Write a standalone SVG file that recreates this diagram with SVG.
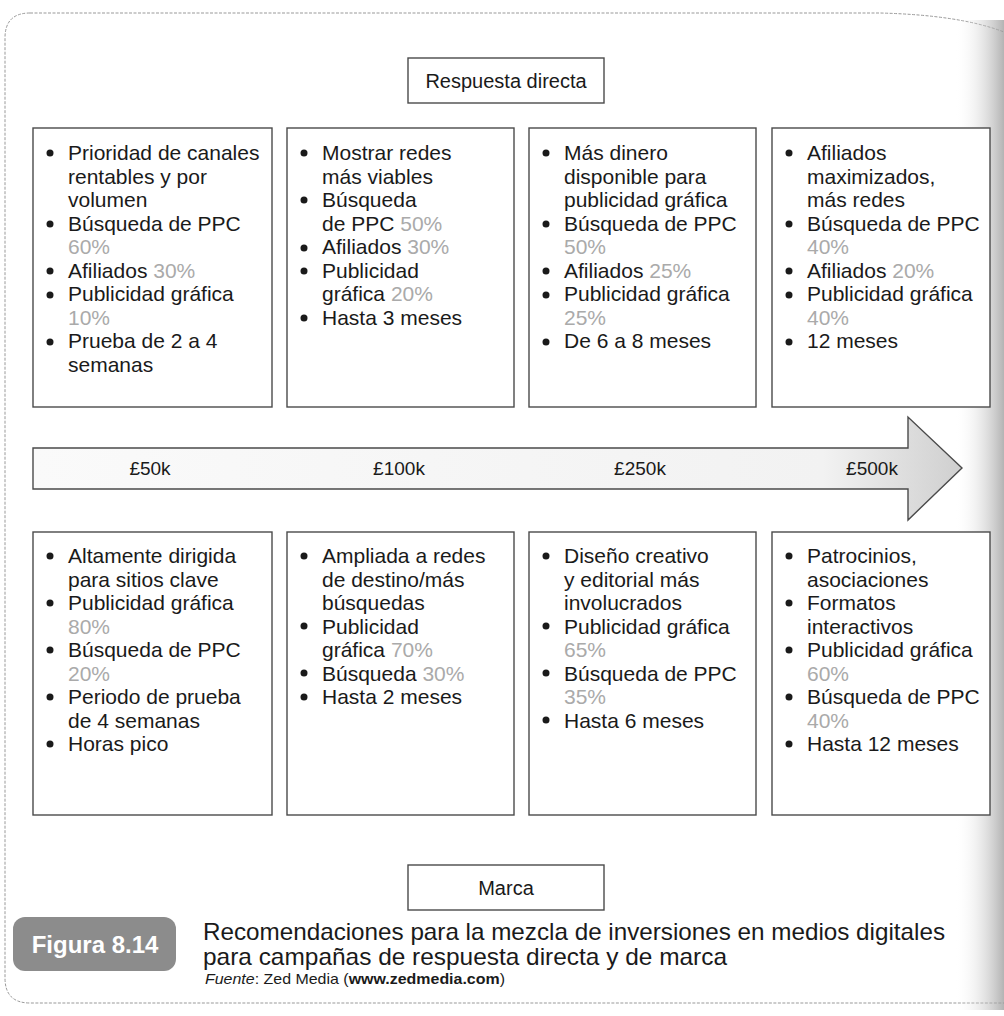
<svg xmlns="http://www.w3.org/2000/svg" width="1004" height="1016" viewBox="0 0 1004 1016">
<defs>
<style>
.t{font-family:"Liberation Sans",Arial,sans-serif;font-size:21px;fill:#1a1a1a}
.p{fill:#aaaaaa}
.box{fill:#fff;stroke:#4a4a4a;stroke-width:1.4}
.lbl{font-family:"Liberation Sans",Arial,sans-serif;font-size:20px;fill:#1a1a1a;text-anchor:middle}
.amt{font-family:"Liberation Sans",Arial,sans-serif;font-size:19px;fill:#1a1a1a;text-anchor:middle}
.cap{font-family:"Liberation Sans",Arial,sans-serif;font-size:24px;fill:#1a1a1a}
.b{fill:#1a1a1a}
</style>
<linearGradient id="shade" x1="0" y1="0" x2="1" y2="0">
<stop offset="0" stop-color="#ffffff" stop-opacity="0"/>
<stop offset="1" stop-color="#9a9a9a" stop-opacity="0.75"/>
</linearGradient>
<linearGradient id="arrowg" x1="0" y1="0" x2="1" y2="0">
<stop offset="0" stop-color="#fafafa"/>
<stop offset="0.85" stop-color="#f2f2f2"/>
<stop offset="1" stop-color="#cfcfcf"/>
</linearGradient>
</defs>
<rect width="1004" height="1016" fill="#fff"/>
<path d="M 30 13 H 880 Q 960 15 1004 32 M 30 13 Q 5 13 5 38 V 978 Q 5 1003 30 1003 H 1004" fill="none" stroke="#999" stroke-width="1" stroke-dasharray="3 1.5"/>
<rect x="955" y="20" width="49" height="990" fill="url(#shade)"/>

<g id="connectors">
<path d="M 33 448 H 908 V 417 L 962 468 L 908 520 V 489 H 33 Z" fill="url(#arrowg)" stroke="#4a4a4a" stroke-width="1.4"/>
<text class="amt" x="150" y="475">£50k</text>
<text class="amt" x="399" y="475">£100k</text>
<text class="amt" x="640" y="475">£250k</text>
<text class="amt" x="872" y="475">£500k</text>
</g>

<g id="respuesta-directa">
<rect class="box" x="408" y="58" width="196" height="45"/>
<text class="lbl" x="506" y="88">Respuesta directa</text>
</g>

<g id="marca">
<rect class="box" x="408" y="865" width="196" height="45"/>
<text class="lbl" x="506" y="895">Marca</text>
</g>

<g id="top-1">
<rect class="box" x="33" y="128" width="239" height="279"/>
<g class="b"><circle cx="50" cy="153" r="3.5"/><circle cx="50" cy="224" r="3.5"/><circle cx="50" cy="271" r="3.5"/><circle cx="50" cy="295" r="3.5"/><circle cx="50" cy="342" r="3.5"/></g>
<text class="t" x="68" y="160">Prioridad de canales</text>
<text class="t" x="68" y="183.5">rentables y por</text>
<text class="t" x="68" y="207">volumen</text>
<text class="t" x="68" y="230.5">Búsqueda de PPC</text>
<text class="t p" x="68" y="254">60%</text>
<text class="t" x="68" y="277.5">Afiliados <tspan class="p">30%</tspan></text>
<text class="t" x="68" y="301">Publicidad gráfica</text>
<text class="t p" x="68" y="324.5">10%</text>
<text class="t" x="68" y="348">Prueba de 2 a 4</text>
<text class="t" x="68" y="371.5">semanas</text>
</g>

<g id="top-2">
<rect class="box" x="287" y="128" width="227" height="279"/>
<g class="b"><circle cx="304" cy="153" r="3.5"/><circle cx="304" cy="200" r="3.5"/><circle cx="304" cy="248" r="3.5"/><circle cx="304" cy="271" r="3.5"/><circle cx="304" cy="318" r="3.5"/></g>
<text class="t" x="322" y="160">Mostrar redes</text>
<text class="t" x="322" y="183.5">más viables</text>
<text class="t" x="322" y="207">Búsqueda</text>
<text class="t" x="322" y="230.5">de PPC <tspan class="p">50%</tspan></text>
<text class="t" x="322" y="254">Afiliados <tspan class="p">30%</tspan></text>
<text class="t" x="322" y="277.5">Publicidad</text>
<text class="t" x="322" y="301">gráfica <tspan class="p">20%</tspan></text>
<text class="t" x="322" y="324.5">Hasta 3 meses</text>
</g>

<g id="top-3">
<rect class="box" x="529" y="128" width="227" height="279"/>
<g class="b"><circle cx="546" cy="153" r="3.5"/><circle cx="546" cy="224" r="3.5"/><circle cx="546" cy="271" r="3.5"/><circle cx="546" cy="295" r="3.5"/><circle cx="546" cy="342" r="3.5"/></g>
<text class="t" x="564" y="160">Más dinero</text>
<text class="t" x="564" y="183.5">disponible para</text>
<text class="t" x="564" y="207">publicidad gráfica</text>
<text class="t" x="564" y="230.5">Búsqueda de PPC</text>
<text class="t p" x="564" y="254">50%</text>
<text class="t" x="564" y="277.5">Afiliados <tspan class="p">25%</tspan></text>
<text class="t" x="564" y="301">Publicidad gráfica</text>
<text class="t p" x="564" y="324.5">25%</text>
<text class="t" x="564" y="348">De 6 a 8 meses</text>
</g>

<g id="top-4">
<rect class="box" x="772" y="128" width="218" height="279"/>
<g class="b"><circle cx="789" cy="153" r="3.5"/><circle cx="789" cy="224" r="3.5"/><circle cx="789" cy="271" r="3.5"/><circle cx="789" cy="295" r="3.5"/><circle cx="789" cy="342" r="3.5"/></g>
<text class="t" x="807" y="160">Afiliados</text>
<text class="t" x="807" y="183.5">maximizados,</text>
<text class="t" x="807" y="207">más redes</text>
<text class="t" x="807" y="230.5">Búsqueda de PPC</text>
<text class="t p" x="807" y="254">40%</text>
<text class="t" x="807" y="277.5">Afiliados <tspan class="p">20%</tspan></text>
<text class="t" x="807" y="301">Publicidad gráfica</text>
<text class="t p" x="807" y="324.5">40%</text>
<text class="t" x="807" y="348">12 meses</text>
</g>

<g id="bottom-1">
<rect class="box" x="33" y="532" width="239" height="283"/>
<g class="b"><circle cx="50" cy="556" r="3.5"/><circle cx="50" cy="603" r="3.5"/><circle cx="50" cy="650" r="3.5"/><circle cx="50" cy="697" r="3.5"/><circle cx="50" cy="744" r="3.5"/></g>
<text class="t" x="68" y="563">Altamente dirigida</text>
<text class="t" x="68" y="586.5">para sitios clave</text>
<text class="t" x="68" y="610">Publicidad gráfica</text>
<text class="t p" x="68" y="633.5">80%</text>
<text class="t" x="68" y="657">Búsqueda de PPC</text>
<text class="t p" x="68" y="680.5">20%</text>
<text class="t" x="68" y="704">Periodo de prueba</text>
<text class="t" x="68" y="727.5">de 4 semanas</text>
<text class="t" x="68" y="751">Horas pico</text>
</g>

<g id="bottom-2">
<rect class="box" x="287" y="532" width="227" height="283"/>
<g class="b"><circle cx="304" cy="556" r="3.5"/><circle cx="304" cy="626" r="3.5"/><circle cx="304" cy="673" r="3.5"/><circle cx="304" cy="697" r="3.5"/></g>
<text class="t" x="322" y="563">Ampliada a redes</text>
<text class="t" x="322" y="586.5">de destino/más</text>
<text class="t" x="322" y="610">búsquedas</text>
<text class="t" x="322" y="633.5">Publicidad</text>
<text class="t" x="322" y="657">gráfica <tspan class="p">70%</tspan></text>
<text class="t" x="322" y="680.5">Búsqueda <tspan class="p">30%</tspan></text>
<text class="t" x="322" y="704">Hasta 2 meses</text>
</g>

<g id="bottom-3">
<rect class="box" x="529" y="532" width="227" height="283"/>
<g class="b"><circle cx="546" cy="556" r="3.5"/><circle cx="546" cy="626" r="3.5"/><circle cx="546" cy="673" r="3.5"/><circle cx="546" cy="720" r="3.5"/></g>
<text class="t" x="564" y="563">Diseño creativo</text>
<text class="t" x="564" y="586.5">y editorial más</text>
<text class="t" x="564" y="610">involucrados</text>
<text class="t" x="564" y="633.5">Publicidad gráfica</text>
<text class="t p" x="564" y="657">65%</text>
<text class="t" x="564" y="680.5">Búsqueda de PPC</text>
<text class="t p" x="564" y="704">35%</text>
<text class="t" x="564" y="727.5">Hasta 6 meses</text>
</g>

<g id="bottom-4">
<rect class="box" x="772" y="532" width="218" height="283"/>
<g class="b"><circle cx="789" cy="556" r="3.5"/><circle cx="789" cy="603" r="3.5"/><circle cx="789" cy="650" r="3.5"/><circle cx="789" cy="697" r="3.5"/><circle cx="789" cy="744" r="3.5"/></g>
<text class="t" x="807" y="563">Patrocinios,</text>
<text class="t" x="807" y="586.5">asociaciones</text>
<text class="t" x="807" y="610">Formatos</text>
<text class="t" x="807" y="633.5">interactivos</text>
<text class="t" x="807" y="657">Publicidad gráfica</text>
<text class="t p" x="807" y="680.5">60%</text>
<text class="t" x="807" y="704">Búsqueda de PPC</text>
<text class="t p" x="807" y="727.5">40%</text>
<text class="t" x="807" y="751">Hasta 12 meses</text>
</g>

<g id="caption">
<rect x="13" y="917" width="163" height="54" rx="12" fill="#8c8c8c"/>
<text x="95" y="953" font-family="Liberation Sans,Arial,sans-serif" font-size="24" font-weight="bold" fill="#fff" text-anchor="middle">Figura 8.14</text>
<text class="cap" x="203" y="940" textLength="742" lengthAdjust="spacingAndGlyphs">Recomendaciones para la mezcla de inversiones en medios digitales</text>
<text class="cap" x="203" y="965" textLength="524" lengthAdjust="spacingAndGlyphs">para campañas de respuesta directa y de marca</text>
<text x="205" y="984" font-family="Liberation Sans,Arial,sans-serif" font-size="15" fill="#1a1a1a" textLength="300" lengthAdjust="spacingAndGlyphs"><tspan font-style="italic">Fuente</tspan>: Zed Media (<tspan font-weight="bold">www.zedmedia.com</tspan>)</text>
</g>
</svg>
